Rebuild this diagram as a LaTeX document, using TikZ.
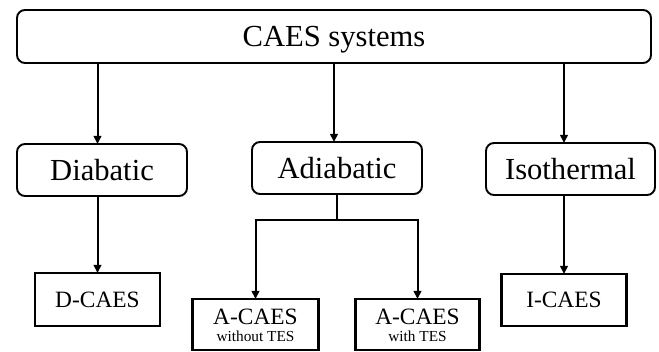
\documentclass[tikz,border=0pt]{standalone}
\usepackage{fontspec}
\setmainfont{Liberation Serif}
\usetikzlibrary{arrows.meta}
\tikzset{
  rbox/.style={draw, line width=1.9pt, rounded corners=8pt, inner sep=0pt, outer sep=0pt,
    font=\fontsize{30.6}{32}\selectfont, text height=20.3pt, text depth=0pt},
  sbox/.style={draw, line width=2.5pt, inner sep=0pt, outer sep=0pt,
    font=\fontsize{23.4}{25}\selectfont},
  arr/.style={line width=2pt, -{Triangle[length=8pt,width=7.5pt]}},
  ln/.style={line width=2pt}
}
\begin{document}
\begin{tikzpicture}[x=1pt,y=-1pt]
\useasboundingbox (0,0) rectangle (659,352);
\node[rbox, minimum width=634pt, minimum height=53pt] (top) at (334,36.5) {CAES systems};
\node[rbox, minimum width=170pt, minimum height=52pt] (dia) at (102,170) {Diabatic};
\node[rbox, minimum width=170pt, minimum height=52pt] (adi) at (337,168) {Adiabatic};
\node[rbox, minimum width=169pt, minimum height=52pt] (iso) at (570.5,169) {Isothermal};
\node[sbox, minimum width=125pt, minimum height=53pt, text height=15.5pt, text depth=0pt] (dc) at (97.5,299.5) {D-CAES};
\node[sbox, minimum width=125pt, minimum height=52pt, text height=15.5pt, text depth=0pt] (ic) at (564,300) {I-CAES};
\node[sbox, minimum width=126pt, minimum height=51pt, text height=17.5pt, text depth=17pt] (a1) at (255.5,324.5)
  {\begin{tabular}[t]{@{}c@{}}A-CAES\\[-8pt]{\fontsize{15.3}{16}\selectfont without TES}\end{tabular}};
\node[sbox, minimum width=124pt, minimum height=51pt, text height=17.5pt, text depth=17pt] (a2) at (417.5,324.5)
  {\begin{tabular}[t]{@{}c@{}}A-CAES\\[-8pt]{\fontsize{15.3}{16}\selectfont with TES}\end{tabular}};
% connectors
\draw[arr] (top.south -| dc.north) -- (dia.north -| dc.north);
\coordinate (an) at ([xshift=-3pt]adi.north);
\draw[arr] (top.south -| an) -- (an);
\draw[arr] (top.south -| ic.north) -- (iso.north -| ic.north);
\draw[arr] (dia.south -| dc.north) -- (dc.north);
\draw[arr] (iso.south -| ic.north) -- (ic.north);
\coordinate (j) at ([yshift=-26pt]adi.south);
\draw[ln] (adi.south) -- (j);
\draw[arr] ([xshift=1pt]j) -| (a1.north);
\draw[arr] ([xshift=-1pt]j) -| (a2.north);
\end{tikzpicture}
\end{document}
